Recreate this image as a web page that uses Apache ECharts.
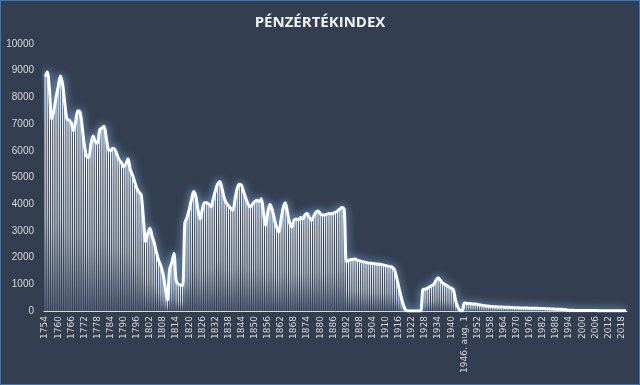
<!DOCTYPE html>
<html>
<head>
<meta charset="utf-8">
<script src="https://cdn.jsdelivr.net/npm/echarts@6/dist/echarts.min.js"></script>
<style>
html,body{margin:0;padding:0;background:#333f50;}
#c{width:640px;height:385px;}
</style>
</head>
<body>
<div id="c"></div>
<script>
// Title
var chartTitle = "PÉNZÉRTÉKINDEX";

// Categories: years 1754..2020, with 1946 shown as "1946. aug. 1"
var firstYear = 1754, lastYear = 2020;
var specialLabel = "1946. aug. 1";
var categories = [];
for (var y = firstYear; y <= lastYear; y++) {
  categories.push(y === 1946 ? specialLabel : String(y));
}

// Values
var values1754_1799 = [
  8780, 8950, 8300, 7200, 7500, 8000, 8400, 8800, 8500, 7800,
  7200, 7150, 7050, 6750, 7100, 7500, 7450, 6900, 6200, 5800,
  5750, 6250, 6550, 6350, 6280, 6780, 6850, 6920, 6500, 6050,
  6000, 6100, 6050, 5850, 5650, 5550, 5400, 5500, 5700, 5300,
  5100, 4850, 4600, 4450, 4350, 3500
];
var values1800_1849 = [
  2600, 2900, 3100, 2800, 2550, 2200, 1900, 1700, 1400, 900,
  400, 1550, 1800, 2150, 1150, 1000, 980, 950, 3300, 3500,
  3800, 4150, 4480, 4300, 3800, 3450, 3800, 4050, 4050, 4000,
  3900, 4200, 4500, 4750, 4850, 4600, 4250, 4050, 3950, 3850,
  3780, 4200, 4600, 4750, 4700, 4450, 4200, 4000, 3900, 4000
];
var values1850_1899 = [
  4100, 4150, 4100, 4200, 3700, 3200, 3700, 4000, 3800, 3450,
  3150, 2950, 3400, 3850, 4050, 3700, 3300, 3150, 3400, 3450,
  3420, 3500, 3450, 3600, 3650, 3500, 3400, 3550, 3700, 3750,
  3650, 3600, 3600, 3620, 3650, 3640, 3660, 3700, 3750, 3820,
  3880, 3800, 1850, 1900, 1920, 1930, 1950, 1900, 1880, 1850
];
var values1900_1949 = [
  1840, 1820, 1800, 1790, 1780, 1770, 1760, 1750, 1740, 1720,
  1700, 1680, 1660, 1640, 1550, 1250, 900, 550, 250, 50,
  0, 0, 0, 0, 0, 0, 0, 800, 820, 850,
  900, 950, 1000, 1150, 1250, 1150, 1050, 1000, 950, 900,
  850, 800, 400, 150, 30, 0, 300, 290, 280, 270
];
var values1950_1999 = [
  265, 260, 245, 230, 215, 200, 190, 180, 170, 165,
  160, 155, 150, 148, 145, 142, 140, 135, 130, 125,
  120, 118, 115, 112, 110, 108, 106, 104, 102, 101,
  100, 96, 92, 88, 84, 80, 76, 72, 68, 65,
  62, 60, 58, 40, 30, 26, 24, 22, 21, 20
];
var values2000_2020 = [
  19, 18, 17, 17, 16, 15, 15, 14, 13, 13,
  12, 12, 12, 11, 11, 11, 10, 10, 10, 10, 10
];
var seriesValues = [].concat(values1754_1799, values1800_1849, values1850_1899,
  values1900_1949, values1950_1999, values2000_2020);

// Y-axis ticks
var yMin = 0, yMax = 10000, yStep = 1000;

var chart = echarts.init(document.getElementById('c'), null, {renderer: 'canvas'});
chart.setOption({
  backgroundColor: '#333f50',
  animation: false,
  title: {
    text: chartTitle,
    left: 'center',
    top: 10,
    textStyle: {
      color: '#f2f2f2',
      fontFamily: 'Open Sans',
      fontWeight: 'bold',
      fontSize: 15
    }
  },
  graphic: [{
    type: 'rect',
    shape: {x: 0.5, y: 0.5, width: 639, height: 384},
    style: {fill: 'none', stroke: '#3a78b8', lineWidth: 1},
    silent: true
  }],
  grid: {left: 44, right: 13, top: 44, bottom: 74},
  xAxis: {
    type: 'category',
    data: categories,
    boundaryGap: true,
    axisLine: {lineStyle: {color: '#d9d9d9', width: 1}},
    axisTick: {show: false},
    axisLabel: {
      interval: 5,
      rotate: 90,
      color: '#d9d9d9',
      fontFamily: 'DejaVu Sans',
      fontSize: 9,
      margin: 5
    },
    splitLine: {show: false}
  },
  yAxis: {
    type: 'value',
    min: yMin,
    max: yMax,
    interval: yStep,
    axisLine: {show: false},
    axisTick: {show: false},
    splitLine: {show: false},
    axisLabel: {
      color: '#d9d9d9',
      fontFamily: 'Liberation Sans',
      fontSize: 10,
      margin: 10,
      formatter: function (v) { return String(v); }
    }
  },
  series: [{
    type: 'bar',
    data: seriesValues,
    barWidth: '55%',
    itemStyle: {
      color: new echarts.graphic.LinearGradient(0, 0, 0, 1, [
        {offset: 0, color: '#ffffff'},
        {offset: 0.6, color: '#c9d0da'},
        {offset: 1, color: '#55627a'}
      ])
    }
  }, {
    type: 'line',
    data: seriesValues,
    smooth: 0.3,
    symbol: 'none',
    lineStyle: {
      color: '#ffffff',
      width: 3,
      shadowColor: 'rgba(140,190,245,1)',
      shadowBlur: 8
    }
  }]
});
</script>
</body>
</html>
